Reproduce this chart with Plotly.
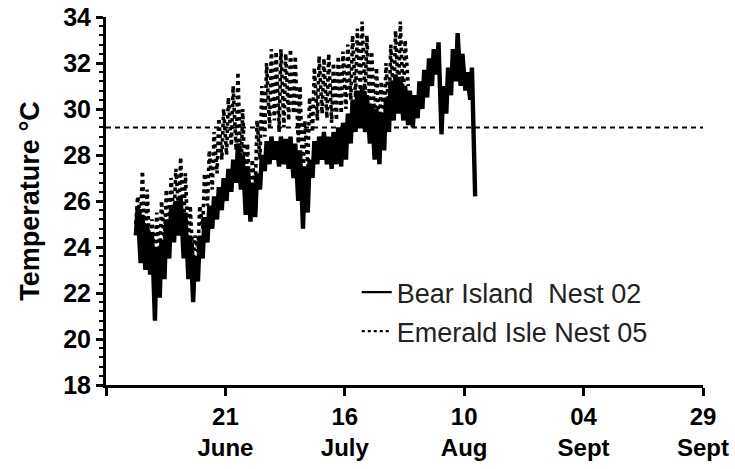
import pandas as pd
import plotly.graph_objects as go

# Nest temperature loggers: daily low / high readings (deg C), one value per day
# starting 6 days after the first axis date (27 May).
START_DATE = "2012-05-27"
FIRST_DAY = 6

bear_min = [24.5, 23.3, 23.0, 22.8, 20.8, 21.8, 22.6, 23.5, 24.2, 24.5,
            23.5, 22.6, 21.6, 22.5, 23.5, 24.2, 24.8, 25.2, 25.6, 26.0,
            26.4, 26.8, 26.5, 25.4, 25.1, 25.3, 26.5, 27.3, 27.6, 27.8,
            27.5, 27.6, 27.4, 27.0, 26.0, 24.8, 25.5, 27.0, 27.6, 27.8,
            27.6, 27.4, 27.6, 27.5, 27.8, 28.5, 29.0, 29.2, 29.0, 28.5,
            27.8, 27.6, 28.2, 29.0, 29.5, 29.8, 29.5, 29.3, 29.2, 29.6,
            30.0, 30.5, 31.0, 31.5, 28.9, 29.8, 30.6, 31.2, 31.0, 30.8,
            30.4]
bear_max = [25.7, 25.4, 25.0, 24.6, 24.0, 24.3, 25.2, 25.8, 26.0, 26.2,
            25.5, 24.5, 23.6, 24.5, 25.3, 25.8, 26.2, 26.6, 27.0, 27.4,
            27.8, 28.5, 28.0, 27.5, 26.8, 27.2, 28.0, 28.6, 28.8, 28.6,
            28.8, 28.7, 28.8, 28.5, 28.2, 27.5, 27.8, 28.6, 28.8, 29.0,
            28.8, 29.0, 29.2, 29.4, 29.8, 30.4, 30.8, 31.0, 30.6, 30.2,
            30.0, 29.8, 30.5, 31.2, 31.5, 31.4, 31.0, 30.8, 30.6, 31.2,
            31.7, 32.2, 32.6, 32.9, 31.0, 31.8, 32.6, 33.3, 32.4, 31.6,
            31.8]
bear_last = 26.2

emerald_min = [25.0, 25.2, 24.0, 23.2, 23.0, 23.5, 24.2, 24.8, 25.2, 25.5,
               24.8, 23.8, 23.2, 23.8, 24.8, 25.8, 26.5, 27.2, 27.8, 28.0,
               28.4, 28.2, 27.0, 26.0, 25.5, 26.5, 27.8, 28.8, 29.2, 29.5,
               29.0, 29.2, 29.5, 29.8, 28.5, 26.8, 27.5, 29.0, 29.5, 29.8,
               29.6, 29.4, 29.5, 29.8, 30.0, 30.4, 30.5, 30.8, 30.5, 30.0,
               29.5, 29.0, 29.3, 29.8, 30.2, 30.5, 30.2]
emerald_max = [26.2, 27.3, 26.5, 25.2, 25.5, 26.0, 26.5, 27.0, 27.4, 27.9,
               27.2, 25.8, 24.5, 25.8, 27.2, 28.2, 29.0, 29.6, 30.0, 30.5,
               31.0, 31.6, 30.0, 28.5, 27.8, 29.5, 31.0, 32.0, 32.6, 32.5,
               32.6, 32.4, 32.6, 32.3, 31.0, 29.5, 30.5, 31.8, 32.3, 32.2,
               32.4, 32.0, 32.3, 32.5, 32.8, 33.2, 33.5, 33.8, 33.2, 32.5,
               31.8, 31.2, 32.0, 32.8, 33.4, 33.8, 33.0]
emerald_last = 31.0

THRESHOLD = 29.2

tick_dates = ["2012-05-27", "2012-06-21", "2012-07-16", "2012-08-10",
              "2012-09-04", "2012-09-29"]
tick_text = ["", "21<br>June", "16<br>July", "10<br>Aug", "04<br>Sept", "29<br>Sept"]

series_names = ["Bear Island  Nest 02", "Emerald Isle Nest 05"]


def daily_series(lows, highs, last):
    """Interleave each day's low (early morning) and high (afternoon)."""
    base = pd.Timestamp(START_DATE)
    xs, ys = [], []
    for i, (lo, hi) in enumerate(zip(lows, highs)):
        day = FIRST_DAY + i
        xs.append(base + pd.Timedelta(hours=24 * day + 6))
        ys.append(lo)
        xs.append(base + pd.Timedelta(hours=24 * day + 15))
        ys.append(hi)
    xs.append(base + pd.Timedelta(hours=24 * (FIRST_DAY + len(lows)) + 7))
    ys.append(last)
    return xs, ys


bx, by = daily_series(bear_min, bear_max, bear_last)
ex, ey = daily_series(emerald_min, emerald_max, emerald_last)

FONT = "Liberation Sans, Arial, sans-serif"

fig = go.Figure()
# data traces (drawn heavy so the daily cycle reads as a dense band)
fig.add_trace(go.Scatter(x=bx, y=by, mode="lines", showlegend=False,
                         line=dict(color="black", width=4.4)))
fig.add_trace(go.Scatter(x=ex, y=ey, mode="lines", showlegend=False,
                         line=dict(color="black", width=3.6, dash="dot")))
# legend keys with thinner strokes
fig.add_trace(go.Scatter(x=[None], y=[None], mode="lines", name=series_names[0],
                         legendgroup="a", line=dict(color="black", width=2.2)))
fig.add_trace(go.Scatter(x=[None], y=[None], mode="lines", name=series_names[1],
                         legendgroup="b", line=dict(color="black", width=2.4, dash="dot")))

fig.add_shape(type="line", xref="paper", x0=0, x1=1, yref="y",
              y0=THRESHOLD, y1=THRESHOLD,
              line=dict(color="black", width=2, dash="5px,4px"))

fig.update_layout(
    width=735, height=469,
    margin=dict(l=106, r=32, t=17, b=84),
    paper_bgcolor="white", plot_bgcolor="white",
    font=dict(family=FONT, color="black"),
    showlegend=True,
    legend=dict(x=0.42, y=0.318, xanchor="left", yanchor="top",
                bgcolor="rgba(0,0,0,0)", tracegroupgap=1,
                traceorder="grouped",
                font=dict(family=FONT, size=27, color="#222")),
    xaxis=dict(
        type="date", automargin=False,
        range=[tick_dates[0], tick_dates[-1]],
        tickmode="array", tickvals=tick_dates, ticktext=tick_text,
        showgrid=False, zeroline=False,
        showline=True, linecolor="black", linewidth=3,
        ticks="outside", ticklen=8, tickwidth=3, tickcolor="black",
        tickfont=dict(family=FONT, size=24, color="black", weight="bold"),
    ),
    yaxis=dict(
        automargin=False,
        range=[18, 34], tick0=18, dtick=2,
        showgrid=False, zeroline=False,
        showline=True, linecolor="black", linewidth=3,
        ticks="outside", ticklen=7, tickwidth=2.5, tickcolor="black",
        tickfont=dict(family=FONT, size=25, color="black", weight="bold"),
        minor=dict(dtick=0.4, tick0=18, ticks="outside", ticklen=4,
                   tickwidth=2, tickcolor="black"),
        title=dict(text="Temperature °C", standoff=16,
                   font=dict(family=FONT, size=27, color="black", weight="bold")),
    ),
)

fig.write_html("out.html")
